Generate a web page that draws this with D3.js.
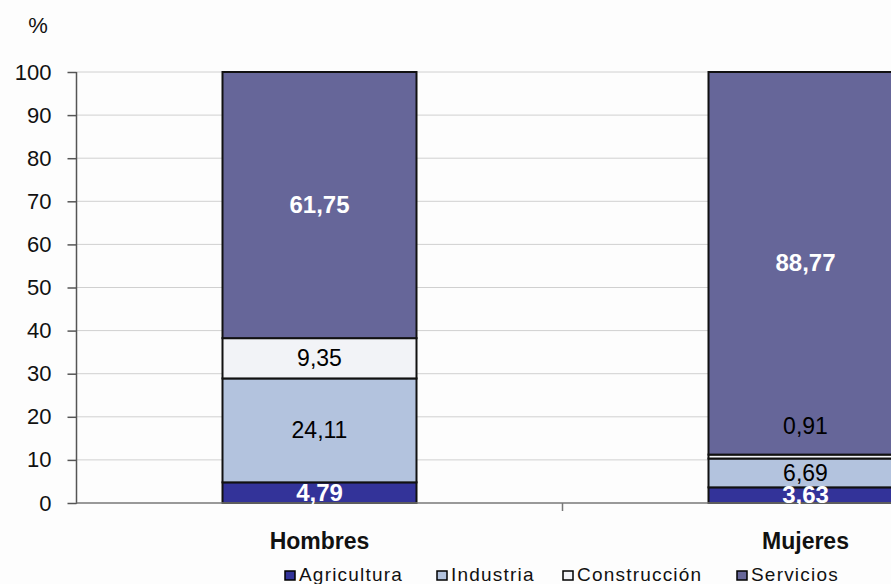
<!DOCTYPE html>
<html><head><meta charset="utf-8">
<script src="https://cdn.jsdelivr.net/npm/d3@7"></script>
<style>body{margin:0;background:#fdfdfd;}svg{display:block;font-family:"Liberation Sans",Arial,sans-serif;}</style>
</head><body><svg id="c" width="891" height="584"></svg>
<script>
const categories = ["Hombres", "Mujeres"];
const seriesNames = ["Agricultura", "Industria", "Construcción", "Servicios"];
const agricultura = [4.79, 3.63];
const industria = [24.11, 6.69];
const construccion = [9.35, 0.91];
const servicios = [61.75, 88.77];
const yTicks = [0, 10, 20, 30, 40, 50, 60, 70, 80, 90, 100];
const colors = ["#333399", "#b3c3de", "#f2f3f7", "#666699"];
const labelColors = ["#fff", "#000", "#000", "#fff"];
const labelBold = [true, false, false, true];

(function () {
const svg = d3.select("#c");
const mLeft = 76.5, mTop = 72, mBottom = 503, plotW = 972;
const xb = d3.scaleBand().domain(categories).range([mLeft, mLeft + plotW]);
const y = d3.scaleLinear().domain([0, 100]).range([mBottom, mTop]);

// gridlines
svg.append("g").selectAll("line").data(yTicks.filter(d => d > 0)).join("line")
  .attr("x1", mLeft).attr("x2", mLeft + plotW).attr("y1", d => y(d)).attr("y2", d => y(d))
  .attr("stroke", "#d0d0d0").attr("stroke-width", 1);

const rows = categories.map((c, i) => ({cat: c, Agricultura: agricultura[i], Industria: industria[i], "Construcción": construccion[i], Servicios: servicios[i]}));
const stack = d3.stack().keys(seriesNames)(rows);

const bw = 194;
stack.forEach((s, si) => {
  svg.append("g").selectAll("rect").data(s).join("rect")
    .attr("x", d => xb(d.data.cat) + xb.bandwidth() / 2 - bw / 2)
    .attr("width", bw)
    .attr("y", d => y(d[1]))
    .attr("height", d => y(d[0]) - y(d[1]))
    .attr("fill", colors[si]).attr("stroke", "#111").attr("stroke-width", 2);
});

// y axis
const yAxis = d3.axisLeft(y).tickValues(yTicks).tickSize(9).tickPadding(16);
const ga = svg.append("g").attr("transform", `translate(${mLeft},0)`).call(yAxis);
ga.select(".domain").attr("stroke", "#555").attr("stroke-width", 1.5).attr("d", `M0,${mTop}V${mBottom + 1}`);
ga.selectAll(".tick line").attr("stroke", "#555").attr("stroke-width", 1.5);
ga.selectAll(".tick text").attr("font-size", 22).attr("fill", "#111").attr("font-family", "Liberation Sans, Arial, sans-serif");

// x axis
const gx = svg.append("g").attr("transform", `translate(0,${mBottom})`);
gx.append("line").attr("x1", mLeft).attr("x2", mLeft + plotW).attr("stroke", "#777").attr("stroke-width", 1.5);
gx.selectAll("line.t").data([mLeft + xb.bandwidth()]).join("line").attr("class", "t")
  .attr("x1", d => d).attr("x2", d => d).attr("y1", 0).attr("y2", 8).attr("stroke", "#777").attr("stroke-width", 1.5);
gx.selectAll("text").data(categories).join("text")
  .attr("x", d => xb(d) + xb.bandwidth() / 2).attr("y", 46)
  .attr("text-anchor", "middle").attr("font-size", 23).attr("font-weight", "bold").attr("fill", "#111").text(d => d);

// labels
stack.forEach((s, si) => {
  svg.append("g").selectAll("text").data(s).join("text")
    .attr("x", d => xb(d.data.cat) + xb.bandwidth() / 2)
    .attr("y", d => {
      const h = y(d[0]) - y(d[1]);
      const mid = (y(d[0]) + y(d[1])) / 2;
      return (h < 8 ? mid - 31 : mid) + 8;
    })
    .attr("text-anchor", "middle").attr("font-size", labelBold[si] ? 24 : 23)
    .attr("font-weight", labelBold[si] ? "bold" : "normal")
    .attr("fill", labelColors[si])
    .text(d => d3.format(".2f")(d[1] - d[0]).replace(".", ","));
});

// % label
svg.append("text").attr("x", 38).attr("y", 33).attr("text-anchor", "middle").attr("font-size", 22).attr("fill", "#111").text("%");

// legend
const legX = [285, 437, 563, 737];
const lg = svg.append("g");
seriesNames.forEach((n, i) => {
  lg.append("rect").attr("x", legX[i]).attr("y", 571).attr("width", 10).attr("height", 9)
    .attr("fill", colors[i]).attr("stroke", "#000").attr("stroke-width", 1.5);
  lg.append("text").attr("x", legX[i] + 14).attr("y", 581).attr("font-size", 19).attr("letter-spacing", 1.2).attr("fill", "#111").text(n);
});
})();
</script></body></html>
